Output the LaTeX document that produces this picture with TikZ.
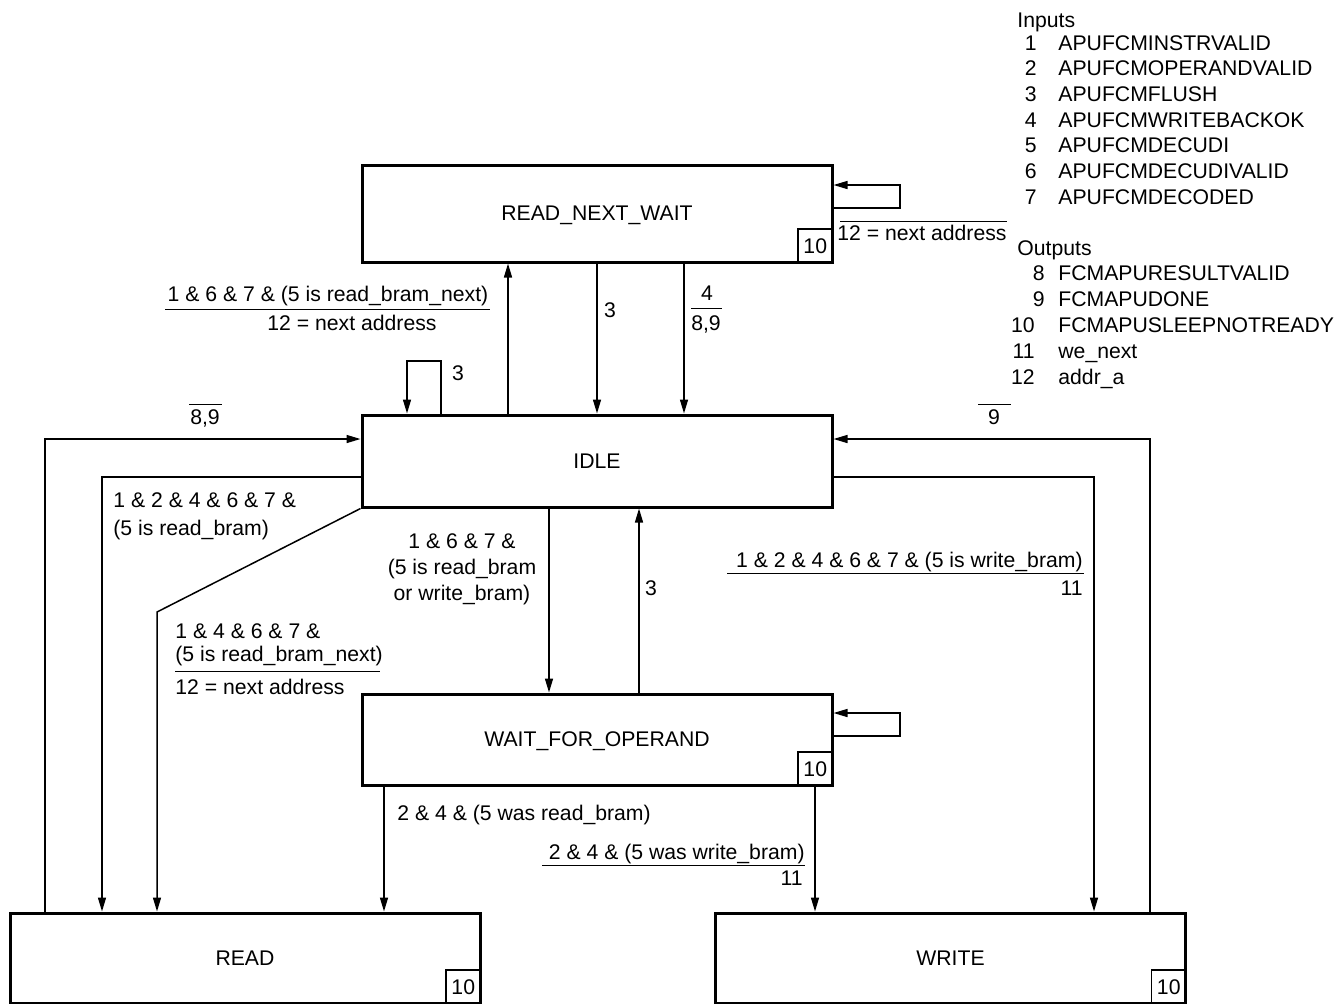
\documentclass[tikz,border=0pt]{standalone}
\usepackage{fontspec}
\setmainfont{Liberation Sans}
\usetikzlibrary{positioning, arrows.meta}

\begin{document}
\begin{tikzpicture}[
    x=0.5pt, y=-0.5pt,
    every node/.style={font=\fontsize{10.6}{13}\selectfont},
    state/.style={draw, line width=1.5pt, minimum width=235pt, inner sep=0pt, text depth=0pt},
    flag/.style={draw, line width=0.75pt, minimum width=17.5pt, minimum height=17pt, inner sep=0pt},
    conn/.style={line width=0.75pt, -{Triangle[length=7pt, width=4pt]}},
    rule/.style={line width=0.5pt},
    lbl/.style={inner sep=0pt}
]
\useasboundingbox (0,0) rectangle (1344,1003);

% states
\node[state, minimum height=48.5pt] (rnw) at (597,213.5) {READ\_NEXT\_WAIT};
\node[state, minimum height=46pt] (idle) at (597,461) {IDLE};
\node[state, minimum height=45.5pt] (wfo) at (597,739.5) {WAIT\_FOR\_OPERAND};
\node[state, minimum height=45pt] (read) at (245,958) {READ};
\node[state, minimum height=45pt] (write) at (950.5,958) {WRITE};
\foreach \s in {rnw, wfo, read, write}
    \node[flag, anchor=south east] (\s flag) at (\s.south east) {10};

% transitions
\draw[conn] (rnw.east |- 0,208) -- (900,208) -- (900,185) -- (rnw.east |- 0,185);
\draw[conn] (idle.north -| 508,0) -- (rnw.south -| 508,0);
\draw[conn] (rnw.south) -- (idle.north);
\draw[conn] (rnw.south -| 684,0) -- (idle.north -| 684,0);
\draw[conn] (idle.north -| 441,0) -- (441,361) -- (407,361) -- (idle.north -| 407,0);
\draw[conn] (read.north -| 45,0) -- (45,439) -- (idle.west |- 0,439);
\draw[conn] (write.north -| 1150,0) -- (1150,439) -- (idle.east |- 0,439);
\draw[conn] (idle.west |- 0,477) -- (102,477) -- (read.north -| 102,0);
\draw[conn] (idle.south west) -- (157,612) -- (read.north -| 157,0);
\draw[conn] (idle.east |- 0,477) -- (1094,477) -- (write.north -| 1094,0);
\draw[conn] (idle.south -| 549,0) -- (wfo.north -| 549,0);
\draw[conn] (wfo.north -| 639,0) -- (idle.south -| 639,0);
\draw[conn] (wfo.east |- 0,736) -- (900,736) -- (900,713) -- (wfo.east |- 0,713);
\draw[conn] (wfo.south -| 384,0) -- (read.north -| 384,0);
\draw[conn] (wfo.south -| 815,0) -- (write.north -| 815,0);

% labels
\node[lbl, anchor=base] (rnwloop) at (922,240) {12 = next address};
\draw[rule] (840,221) -- (1007,221);
\node[lbl, anchor=base] (toRnw) at (328,301) {1 \& 6 \& 7 \& (5 is read\_bram\_next)};
\draw[rule] (165,309) -- (490,309);
\node[lbl, anchor=base] (toRnwOut) at (352,330) {12 = next address};
\node[lbl, anchor=base] (flushA) at (610,317) {3};
\node[lbl, anchor=base] (wbIn) at (707,300) {4};
\draw[rule] (691,308) -- (722,308);
\node[lbl, anchor=base] (wbOut) at (706,330) {8,9};
\node[lbl, anchor=base] (flushB) at (458,380) {3};
\node[lbl, anchor=base] (readDone) at (205,424) {8,9};
\draw[rule] (189,404) -- (222,404);
\node[lbl, anchor=base] (writeDone) at (994,424) {9};
\draw[rule] (978,404) -- (1011,404);
\node[lbl, anchor=base west] (toReadA) at (113,507) {1 \& 2 \& 4 \& 6 \& 7 \&};
\node[lbl, anchor=base west] (toReadB) at (113,535) {(5 is read\_bram)};
\node[lbl, anchor=base west] (toNextA) at (175,638) {1 \& 4 \& 6 \& 7 \&};
\node[lbl, anchor=base west] (toNextB) at (175,661) {(5 is read\_bram\_next)};
\draw[rule] (175,671) -- (380,671);
\node[lbl, anchor=base west] (toNextOut) at (175,694) {12 = next address};
\node[lbl, align=center] (toWfo) at (462,569) {1 \& 6 \& 7 \&\\(5 is read\_bram\\or write\_bram)};
\node[lbl, anchor=base] (flushC) at (651,595) {3};
\node[lbl, anchor=base east] (toWrite) at (1083,567) {1 \& 2 \& 4 \& 6 \& 7 \& (5 is write\_bram)};
\draw[rule] (727,573) -- (1084,573);
\node[lbl, anchor=base east] (toWriteOut) at (1083,595) {11};
\node[lbl, anchor=base west] (opRead) at (397,820) {2 \& 4 \& (5 was read\_bram)};
\node[lbl, anchor=base east] (opWrite) at (805,859) {2 \& 4 \& (5 was write\_bram)};
\draw[rule] (542,865) -- (805,865);
\node[lbl, anchor=base east] (opWriteOut) at (803,885) {11};

% legend
\node[lbl, anchor=base west] (inputs) at (1017,27) {Inputs};
\foreach \n/\name [count=\i] in {1/APUFCMINSTRVALID, 2/APUFCMOPERANDVALID, 3/APUFCMFLUSH,
    4/APUFCMWRITEBACKOK, 5/APUFCMDECUDI, 6/APUFCMDECUDIVALID, 7/APUFCMDECODED} {
    \node[lbl, anchor=base east] (in\n) at (1037,{50+25.7*(\i-1)}) {\n};
    \node[lbl, anchor=base west] (inname\n) at (1058,{50+25.7*(\i-1)}) {\name};
}
\node[lbl, anchor=base west] (outputs) at (1017,255) {Outputs};
\foreach \n/\xx/\name [count=\i] in {8/1045/FCMAPURESULTVALID, 9/1045/FCMAPUDONE,
    10/1035/FCMAPUSLEEPNOTREADY, 11/1035/we\_next, 12/1035/addr\_a} {
    \node[lbl, anchor=base east] (out\n) at (\xx,{280+26*(\i-1)}) {\n};
    \node[lbl, anchor=base west] (outname\n) at (1058,{280+26*(\i-1)}) {\name};
}
\end{tikzpicture}
\end{document}
